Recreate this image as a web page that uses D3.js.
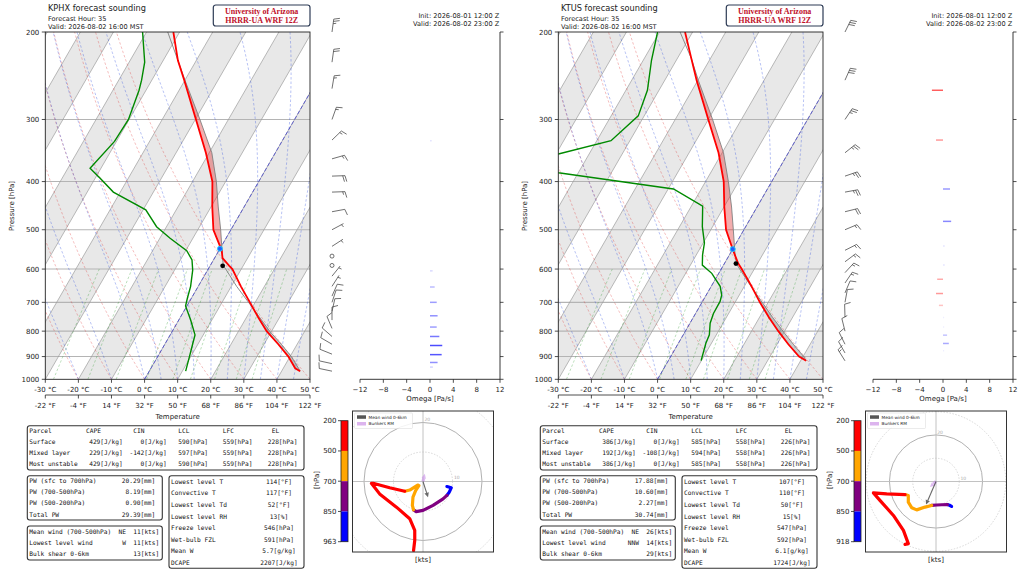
<!DOCTYPE html>
<html>
<head>
<meta charset="utf-8">
<script src="https://cdnjs.cloudflare.com/ajax/libs/d3/7.8.5/d3.min.js"></script>
<style>
  body { margin: 0; background: #fff; }
  text { font-family: "DejaVu Sans", sans-serif; fill: #222; }
  .mono { font-family: "DejaVu Sans Mono", monospace; font-size: 6.2px; fill: #111; }
</style>
</head>
<body>
<svg id="chart" width="1024" height="569"></svg>
<script>

// ---------- KPHX (left) ----------
var phxLevP   = [963, 950, 900, 850, 800, 750, 700, 650, 600, 591, 570, 550, 500, 450, 400, 350, 300, 250, 228, 200];
var phxTemp   = [45.6, 43.6, 39.5, 34.3, 28.5, 23.5, 18.4, 12.9, 7.3, 5.8, 2.4, 0.8, -5.3, -9.6, -14.0, -21.0, -29.8, -40.2, -45.6, -51.9];
var phxParcel = [45.6, 44.6, 40.4, 35.2, 29.4, 23.9, 18.0, 11.6, 5.3, 4.0, 2.4, 0.9, -3.1, -7.8, -12.8, -19.2, -28.6, -40.0, -45.6, -53.6];
var phxTdP    = [963, 900, 850, 814, 760, 712, 687, 650, 603, 575, 551, 520, 493, 456, 420, 394, 376, 332, 300, 262, 250, 230, 200];
var phxTd     = [11.0, 9.6, 8.4, 7.5, 3.6, -0.4, -1.2, -2.3, -4.5, -6.5, -9.7, -16.9, -23.0, -29.2, -42.1, -48.5, -53.3, -50.6, -50.2, -52.1, -53.1, -55.3, -61.2];
var phxWindP  = [963, 930, 890, 850, 820, 790, 760, 730, 700, 680, 650, 620, 590, 565, 540, 500, 460, 420, 390, 360, 330, 300, 260, 230, 200];
var phxU      = [8.1, 9.6, 8.9, 8.1, 6.8, 3.4, 0.0, -2.3, -3.2, -3.6, -3.4, -2.5, -1.4, -1.8, -4.5, -6.2, -11.3, -16.9, -17.5, -14.7, -9.0, -4.5, -2.8, -2.8, -3.2];
var phxV      = [-1.7, -2.1, -3.6, -4.7, -5.9, -8.1, -9.8, -10.2, -9.6, -8.1, -5.3, -3.1, -1.4, -1.2, -2.9, -3.3, -2.1, -0.6, -0.6, -4.2, -8.7, -12.6, -16.6, -20.0, -23.4];
var phxOmegaP = [331, 605, 652, 700, 745, 785, 820, 855, 892, 925, 945];
var phxOmega  = [0.3, 0.45, 0.8, 1.15, 1.3, 1.15, 1.6, 2.1, 2.0, 1.3, 0.5];
var phxLcl    = [591, 3.8];
var phxFrz    = [546, 0];
var phxMeanWind = [1.7, -5.3];
var phxBunkers  = [0.6, 2.6];
var phxCape = [429, 229, 429], phxCin = [0, -142, 0], phxLCL = [590, 597, 590], phxLFC = [559, 559, 559], phxEL = [228, 228, 228];
var phxPW = [20.29, 8.19, 0.90, 29.39];
var phxWindDir = ["NE", "W", ""], phxWindSpd = [11, 11, 13];
var phxStats = [114, 117, 52, 13, 546, 591, 5.7, 2207];

// ---------- KTUS (right) ----------
var tusLevP   = [918, 900, 850, 800, 750, 700, 650, 600, 585, 565, 550, 500, 450, 400, 350, 300, 250, 226, 200];
var tusTemp   = [41.7, 38.8, 33.4, 28.1, 22.8, 17.5, 12.2, 6.2, 4.2, 2.0, 0.3, -5.4, -9.9, -14.5, -21.1, -30.0, -40.4, -45.8, -52.3];
var tusParcel = [41.7, 40.2, 34.9, 29.5, 23.9, 18.2, 12.0, 5.6, 3.6, 2.0, 0.8, -3.2, -7.7, -13.1, -19.6, -28.7, -39.9, -45.8, -53.8];
var tusTdP    = [917, 846, 814, 771, 737, 697, 677, 650, 612, 589, 562, 532, 493, 448, 414, 384, 370, 352, 331, 295, 262, 228, 200];
var tusTd     = [9.9, 8.3, 7.9, 6.1, 5.4, 5.3, 4.7, 2.7, -2.1, -6.4, -8.1, -9.6, -13.1, -16.6, -28.4, -66.0, -80.0, -69.3, -55.7, -51.8, -53.5, -57.5, -60.6];
var tusWindP  = [918, 885, 850, 800, 750, 700, 670, 640, 610, 580, 550, 500, 460, 420, 390, 350, 300, 250, 200];
var tusU      = [6.7, 5.8, 4.9, 2.5, 0.3, -1.9, -4.7, -8.3, -10.4, -11.9, -11.9, -13.3, -21.2, -26.9, -24.0, -18.3, -14.0, -11.9, -13.3];
var tusV      = [-10.7, -10.2, -9.9, -10.0, -10.1, -10.3, -11.0, -12.2, -11.3, -8.9, -6.0, -5.6, -5.3, -4.9, -8.2, -14.6, -21.0, -26.7, -27.0];
var tusOmegaP = [262, 330, 414, 481, 539, 589, 629, 672, 710, 751, 785, 815, 847, 876];
var tusOmega  = [-1.9, -1.2, 1.2, 1.4, 0.3, 0.3, -1.0, -1.2, -0.7, 0.2, 0.2, 0.7, 1.0, 0.2];
var tusLcl    = [585, 3.5];
var tusFrz    = [547, 0];
var tusMeanWind = [-4.3, -9.9];
var tusBunkers  = [-2.6, -2.4];
var tusCape = [386, 192, 386], tusCin = [0, -108, 0], tusLCL = [585, 594, 585], tusLFC = [558, 558, 558], tusEL = [226, 226, 226];
var tusPW = [17.88, 10.60, 2.27, 30.74];
var tusWindDir = ["NE", "NNW", ""], tusWindSpd = [26, 14, 29];
var tusStats = [107, 110, 50, 15, 547, 592, 6.1, 1724];

// ---------- axes / labels ----------
var pressTicks = [200, 300, 400, 500, 600, 700, 800, 900, 1000];
var tempTicksC = [-30, -20, -10, 0, 10, 20, 30, 40, 50];
var tempLabelsF = ["-22 °F", "-4 °F", "14 °F", "32 °F", "50 °F", "68 °F", "86 °F", "104 °F", "122 °F"];
var omegaTicks = [-12, -8, -4, 0, 4, 8, 12];
var omegaLabels = ["\u221212", "\u22128", "\u22124", "0", "4", "8", "12"];
var dryT0 = [-30, -20, -10, 0, 10, 20, 30, 40, 50];
var moistT0 = [-30, -20, -10, 0, 5, 10, 15, 20, 25, 30, 35, 40, 45, 50];
var mixW = [0.4, 1, 2, 4, 7, 10, 16, 24, 32];
var hodoBounds = [500, 700, 850];
var hodoColors = ["#ff0000", "#ffa500", "#800080", "#0000ff"];
var parcelNames = ["Surface", "Mixed layer", "Most unstable"];
var pwLabels = ["PW (sfc to 700hPa)", "PW (700-500hPa)", "PW (500-200hPa)", "Total PW"];
var windLabels = ["Mean wind (700-500hPa)", "Lowest level wind", "Bulk shear 0-6km"];
var statLabels = ["Lowest level T", "Convective T", "Lowest level Td", "Lowest level RH", "Freeze level", "Wet-bulb FZL", "Mean W", "DCAPE"];
var statUnits = ["[°F]", "[°F]", "[°F]", "[%]", "[hPa]", "[hPa]", "[g/kg]", "[J/kg]"];

var panels = [
  { off: 0, stn: "KPHX", levP: phxLevP, temp: phxTemp, parcel: phxParcel, tdP: phxTdP, td: phxTd,
    windP: phxWindP, u: phxU, v: phxV, omP: phxOmegaP, om: phxOmega, lcl: phxLcl, frz: phxFrz,
    mean: phxMeanWind, bunk: phxBunkers, hodoMax: 23.9, grayTop: 700, redBot: 570, redTop: 228,
    cape: phxCape, cin: phxCin, lclT: phxLCL, lfc: phxLFC, el: phxEL, pw: phxPW, wdir: phxWindDir, wspd: phxWindSpd, stats: phxStats },
  { off: 513, stn: "KTUS", levP: tusLevP, temp: tusTemp, parcel: tusParcel, tdP: tusTdP, td: tusTd,
    windP: tusWindP, u: tusU, v: tusV, omP: tusOmegaP, om: tusOmega, lcl: tusLcl, frz: tusFrz,
    mean: tusMeanWind, bunk: tusBunkers, hodoMax: 30.3, grayTop: 650, redBot: 565, redTop: 226,
    cape: tusCape, cin: tusCin, lclT: tusLCL, lfc: tusLFC, el: tusEL, pw: tusPW, wdir: tusWindDir, wspd: tusWindSpd, stats: tusStats }
];

var TAN30 = Math.tan(Math.PI / 6);
var P = { x0: 45.3, x1: 310, y0: 32, y1: 379.3 };
var yP = d3.scaleLog().domain([1000, 200]).range([P.y1, P.y0]);
var xT = d3.scaleLinear().domain([-30, 50]).range([P.x0, P.x1]);
function sx(t, p) { return xT(t) + (P.y1 - yP(p)) * TAN30; }
var xW = d3.scaleLinear().domain([-12, 12]).range([360, 500]);
var line = d3.line();

function esat(tc) { return 6.112 * Math.exp(17.67 * tc / (tc + 243.5)); }
function moistGrad(tk, p) {
  var es = esat(tk - 273.15), rs = 0.622 * es / (p - es);
  return (287.04 * tk + 2.501e6 * rs) / (1005.7 + 2.501e6 * 2.501e6 * rs * 0.622 / (287.04 * tk * tk)) / p;
}
function moistLine(t0) {
  var pts = [], tk = t0 + 273.15, p = 1000, h = -5;
  while (p >= 200) {
    pts.push([sx(tk - 273.15, p), yP(p)]);
    var k1 = moistGrad(tk, p), k2 = moistGrad(tk + h / 2 * k1, p + h / 2),
        k3 = moistGrad(tk + h / 2 * k2, p + h / 2), k4 = moistGrad(tk + h * k3, p + h);
    tk += h / 6 * (k1 + 2 * k2 + 2 * k3 + k4); p += h;
  }
  return pts;
}

var svg = d3.select("#chart");
svg.append("rect").attr("width", 1024).attr("height", 569).attr("fill", "#fff");
var defs = svg.append("defs");
defs.append("clipPath").attr("id", "skewClip").append("rect")
  .attr("x", P.x0).attr("y", P.y0).attr("width", P.x1 - P.x0).attr("height", P.y1 - P.y0);
var HB = { x: 352.5, y: 411, s: 141 };
defs.append("clipPath").attr("id", "hodoClip").append("rect")
  .attr("x", HB.x).attr("y", HB.y).attr("width", HB.s).attr("height", HB.s);

function txt(g, x, y, s, size, anchor) {
  return g.append("text").attr("x", x).attr("y", y).attr("font-size", size)
    .attr("text-anchor", anchor || "start").text(s);
}
function mtext(g, x, y, s, anchor) {
  g.append("text").attr("class", "mono").attr("x", x).attr("y", y).attr("dy", "0.35em")
    .attr("text-anchor", anchor || "start").text(s);
}
function box(g, x, y, w, h) {
  g.append("rect").attr("x", x).attr("y", y).attr("width", w).attr("height", h).attr("rx", 2.5)
    .attr("fill", "#fff").attr("stroke", "#333").attr("stroke-width", 1.1);
}

function barb(g, x, y, u, v) {
  var spd = Math.hypot(u, v);
  if (spd < 2.5) {
    g.append("circle").attr("cx", x).attr("cy", y).attr("r", 2).attr("fill", "none")
      .attr("stroke", "#333").attr("stroke-width", 0.7);
    return;
  }
  var L = 13, dx = -u / spd, dy = v / spd, px = -dy, py = dx, fl = 6, sp = 2.3;
  var tx = x + dx * L, ty = y + dy * L;
  var d = "M" + x + "," + y + "L" + tx + "," + ty;
  var r = Math.round(spd / 5) * 5;
  var flags = Math.floor(r / 50); r -= flags * 50;
  var full = Math.floor(r / 10); r -= full * 10;
  var half = r >= 5, pos = 0, i, sx0, sy0;
  for (i = 0; i < flags; i++) {
    sx0 = tx - dx * pos; sy0 = ty - dy * pos;
    d += "M" + sx0 + "," + sy0 + "L" + (sx0 + px * fl - dx * 1.5) + "," + (sy0 + py * fl - dy * 1.5) +
         "L" + (sx0 - dx * 3) + "," + (sy0 - dy * 3);
    pos += 3.8;
  }
  for (i = 0; i < full; i++) {
    sx0 = tx - dx * pos; sy0 = ty - dy * pos;
    d += "M" + sx0 + "," + sy0 + "L" + (sx0 + px * fl + dx * 1.6) + "," + (sy0 + py * fl + dy * 1.6);
    pos += sp;
  }
  if (half) {
    if (flags + full === 0) pos += sp;
    sx0 = tx - dx * pos; sy0 = ty - dy * pos;
    d += "M" + sx0 + "," + sy0 + "L" + (sx0 + px * fl / 2 + dx * 0.8) + "," + (sy0 + py * fl / 2 + dy * 0.8);
  }
  g.append("path").attr("d", d).attr("fill", "none").attr("stroke", "#333").attr("stroke-width", 0.7);
}

function arrow(g, x0, y0, x1, y1, color, w, head, op) {
  var a = Math.atan2(y1 - y0, x1 - x0);
  var bx = x1 - Math.cos(a) * head, by = y1 - Math.sin(a) * head;
  g.append("line").attr("x1", x0).attr("y1", y0).attr("x2", bx).attr("y2", by)
    .attr("stroke", color).attr("stroke-width", w).attr("opacity", op);
  g.append("path").attr("d", line([[x1, y1], [bx + Math.sin(a) * head * 0.5, by - Math.cos(a) * head * 0.5],
      [bx - Math.sin(a) * head * 0.5, by + Math.cos(a) * head * 0.5]]) + "Z")
    .attr("fill", color).attr("opacity", op);
}

function drawPanel(d) {
  var g = svg.append("g").attr("transform", "translate(" + d.off + ",0)");

  // ----- skew-T background -----
  var bg = g.append("g").attr("clip-path", "url(#skewClip)");
  for (var t = -100; t <= 40; t += 20) {
    bg.append("path").attr("d", line([[sx(t, 1000), yP(1000)], [sx(t + 10, 1000), yP(1000)],
      [sx(t + 10, 200), yP(200)], [sx(t, 200), yP(200)]]) + "Z").attr("fill", "#e8e8e8");
  }
  pressTicks.slice(1, -1).forEach(function (p) {
    bg.append("line").attr("x1", P.x0).attr("x2", P.x1).attr("y1", yP(p)).attr("y2", yP(p))
      .attr("stroke", "#b4b4b4").attr("stroke-width", 1.1);
  });
  for (t = -100; t <= 50; t += 10) {
    bg.append("line").attr("x1", sx(t, 1000)).attr("y1", yP(1000)).attr("x2", sx(t, 200)).attr("y2", yP(200))
      .attr("stroke", "#9c9c9c").attr("stroke-width", 0.7);
  }
  var pFull = d3.range(1000, 199, -10);
  dryT0.forEach(function (t0) {
    bg.append("path").attr("d", line(pFull.map(function (p) {
      return [sx((t0 + 273.15) * Math.pow(p / 1000, 0.2857) - 273.15, p), yP(p)]; })))
      .attr("fill", "none").attr("stroke", "#e03030").attr("stroke-opacity", 0.45)
      .attr("stroke-width", 0.7).attr("stroke-dasharray", "2.5,2");
  });
  moistT0.forEach(function (t0) {
    bg.append("path").attr("d", line(moistLine(t0))).attr("fill", "none").attr("stroke", "#3050e0")
      .attr("stroke-opacity", 0.5).attr("stroke-width", 0.7).attr("stroke-dasharray", "2.5,2");
  });
  var pMix = d3.range(1000, 599, -10);
  mixW.forEach(function (w) {
    bg.append("path").attr("d", line(pMix.map(function (p) {
      var e = p * (w / 1000) / (0.622 + w / 1000), l = Math.log(e / 6.112);
      return [sx(243.5 * l / (17.67 - l), p), yP(p)]; })))
      .attr("fill", "none").attr("stroke", "#2a9a2a").attr("stroke-opacity", 0.45)
      .attr("stroke-width", 0.7).attr("stroke-dasharray", "2.5,2");
  });
  bg.append("line").attr("x1", sx(0, 1000)).attr("y1", yP(1000)).attr("x2", sx(0, 200)).attr("y2", yP(200))
    .attr("stroke", "#2a2ad0").attr("stroke-opacity", 0.75).attr("stroke-width", 0.9).attr("stroke-dasharray", "4,2");

  // ----- sounding -----
  var rows = d.levP.map(function (p, i) { return { p: p, e: d.temp[i], q: d.parcel[i] }; });
  var area = d3.area().y(function (r) { return yP(r.p); })
    .x0(function (r) { return sx(r.e, r.p); }).x1(function (r) { return sx(r.q, r.p); });
  bg.append("path").attr("d", area(rows.filter(function (r) { return r.p >= d.grayTop; })))
    .attr("fill", "#808080").attr("fill-opacity", 0.4);
  bg.append("path").attr("d", area(rows.filter(function (r) { return r.p <= d.redBot && r.p >= d.redTop; })))
    .attr("fill", "#e02828").attr("fill-opacity", 0.38);
  bg.append("path").attr("d", line(rows.map(function (r) { return [sx(r.q, r.p), yP(r.p)]; })))
    .attr("fill", "none").attr("stroke", "#808080").attr("stroke-width", 0.9);
  bg.append("path").attr("d", line(rows.map(function (r) { return [sx(r.e, r.p), yP(r.p)]; })))
    .attr("fill", "none").attr("stroke", "#ff0000").attr("stroke-width", 1.8);
  bg.append("path").attr("d", line(d.tdP.map(function (p, i) { return [sx(d.td[i], p), yP(p)]; })))
    .attr("fill", "none").attr("stroke", "#008a00").attr("stroke-width", 1.4);
  bg.append("circle").attr("cx", sx(d.lcl[1], d.lcl[0])).attr("cy", yP(d.lcl[0])).attr("r", 2.4).attr("fill", "#000");
  bg.append("circle").attr("cx", sx(d.frz[1], d.frz[0])).attr("cy", yP(d.frz[0])).attr("r", 2.5)
    .attr("fill", "#1f5cff").attr("stroke", "#1ad0ff").attr("stroke-width", 0.9);

  g.append("rect").attr("x", P.x0).attr("y", P.y0).attr("width", P.x1 - P.x0).attr("height", P.y1 - P.y0)
    .attr("fill", "none").attr("stroke", "#222").attr("stroke-width", 0.9);

  // y axis
  pressTicks.forEach(function (p) {
    g.append("line").attr("x1", P.x0 - 3.5).attr("x2", P.x0).attr("y1", yP(p)).attr("y2", yP(p))
      .attr("stroke", "#222").attr("stroke-width", 0.8);
    txt(g, P.x0 - 6, yP(p) + 2.5, String(p), 7, "end");
  });
  txt(g, 0, 0, "Pressure [hPa]", 7, "middle").attr("transform", "translate(14,206) rotate(-90)");
  // x axes
  tempTicksC.forEach(function (c, i) {
    var x = xT(c);
    g.append("line").attr("x1", x).attr("x2", x).attr("y1", P.y1).attr("y2", P.y1 + 3.5)
      .attr("stroke", "#222").attr("stroke-width", 0.8);
    txt(g, x, 392, c + " °C", 7, "middle");
    g.append("line").attr("x1", x).attr("x2", x).attr("y1", 395).attr("y2", 398.5)
      .attr("stroke", "#222").attr("stroke-width", 0.8);
    txt(g, x, 407.5, tempLabelsF[i], 7, "middle");
  });
  g.append("line").attr("x1", P.x0).attr("x2", P.x1).attr("y1", 395).attr("y2", 395)
    .attr("stroke", "#222").attr("stroke-width", 0.8);
  txt(g, (P.x0 + P.x1) / 2, 418.5, "Temperature", 7, "middle");

  // ----- omega panel -----
  g.append("line").attr("x1", xW(-12)).attr("x2", xW(12)).attr("y1", P.y1).attr("y2", P.y1)
    .attr("stroke", "#222").attr("stroke-width", 0.9);
  g.append("line").attr("x1", xW(12)).attr("x2", xW(12)).attr("y1", P.y0).attr("y2", P.y1)
    .attr("stroke", "#222").attr("stroke-width", 0.9);
  pressTicks.forEach(function (p) {
    g.append("line").attr("x1", xW(12)).attr("x2", xW(12) + 3.5).attr("y1", yP(p)).attr("y2", yP(p))
      .attr("stroke", "#222").attr("stroke-width", 0.8);
  });
  omegaTicks.forEach(function (w, i) {
    g.append("line").attr("x1", xW(w)).attr("x2", xW(w)).attr("y1", P.y1).attr("y2", P.y1 + 3.5)
      .attr("stroke", "#222").attr("stroke-width", 0.8);
    txt(g, xW(w), 392, omegaLabels[i], 7, "middle");
  });
  txt(g, xW(0), 400.5, "Omega [Pa/s]", 7, "middle");
  d.omP.forEach(function (p, i) {
    var w = d.om[i];
    g.append("line").attr("x1", xW(0)).attr("x2", xW(w)).attr("y1", yP(p)).attr("y2", yP(p))
      .attr("stroke", w >= 0 ? "#0000ff" : "#ff0000").attr("stroke-opacity", Math.min(1, Math.abs(w) / 3))
      .attr("stroke-width", 1.5);
  });

  // ----- wind barbs -----
  var bgB = g.append("g");
  d.windP.forEach(function (p, i) { barb(bgB, 332, yP(p), d.u[i], d.v[i]); });

  // ----- hodograph -----
  var hu = d3.scaleLinear().domain([-d.hodoMax, d.hodoMax]).range([HB.x, HB.x + HB.s]);
  var hv = d3.scaleLinear().domain([-d.hodoMax, d.hodoMax]).range([HB.y + HB.s, HB.y]);
  var hg = g.append("g");
  hg.append("rect").attr("x", HB.x).attr("y", HB.y).attr("width", HB.s).attr("height", HB.s).attr("fill", "#fff");
  var hc = hg.append("g").attr("clip-path", "url(#hodoClip)");
  [10, 20, 30].forEach(function (r) {
    hc.append("circle").attr("cx", hu(0)).attr("cy", hv(0)).attr("r", hu(r) - hu(0)).attr("fill", "none")
      .attr("stroke", r === 20 ? "#a8a8a8" : "#c8c8c8").attr("stroke-width", r === 20 ? 0.9 : 0.7)
      .attr("stroke-dasharray", r === 20 ? null : "1.5,1.5");
  });
  hc.append("line").attr("x1", HB.x).attr("x2", HB.x + HB.s).attr("y1", hv(0)).attr("y2", hv(0)).attr("stroke", "#bbb").attr("stroke-width", 0.9);
  hc.append("line").attr("y1", HB.y).attr("y2", HB.y + HB.s).attr("x1", hu(0)).attr("x2", hu(0)).attr("stroke", "#bbb").attr("stroke-width", 0.9);
  txt(hc, hu(10.5), hv(0.8), "10", 4.5, "start").style("fill", "#aaa");
  txt(hc, hu(0.5), hv(20.6), "20", 4.5, "start").style("fill", "#aaa");
  function bandOf(p) { return p <= hodoBounds[0] ? 0 : p <= hodoBounds[1] ? 1 : p <= hodoBounds[2] ? 2 : 3; }
  var runs = [], cur = null;
  for (var i = 0; i < d.windP.length - 1; i++) {
    var b = bandOf((d.windP[i] + d.windP[i + 1]) / 2);
    if (!cur || cur.b !== b) { cur = { b: b, pts: [[hu(d.u[i]), hv(d.v[i])]] }; runs.push(cur); }
    cur.pts.push([hu(d.u[i + 1]), hv(d.v[i + 1])]);
  }
  runs.forEach(function (r) {
    hc.append("path").attr("d", line(r.pts)).attr("fill", "none").attr("stroke", hodoColors[r.b])
      .attr("stroke-width", 3.2).attr("stroke-linecap", "round").attr("stroke-linejoin", "round");
  });
  arrow(hc, hu(0), hv(0), hu(d.bunk[0]), hv(d.bunk[1]), "#c88ee8", 3.2, 4.5, 0.6);
  arrow(hc, hu(0), hv(0), hu(d.mean[0]), hv(d.mean[1]), "#444", 1.1, 4.5, 0.8);
  // legend
  hg.append("rect").attr("x", HB.x + 2).attr("y", HB.y + 2).attr("width", 58).attr("height", 15.5).attr("rx", 1)
    .attr("fill", "#fff").attr("fill-opacity", 0.85).attr("stroke", "#ddd").attr("stroke-width", 0.6);
  hg.append("rect").attr("x", HB.x + 4.5).attr("y", HB.y + 4.3).attr("width", 9).attr("height", 3.5).attr("fill", "#555");
  hg.append("rect").attr("x", HB.x + 4.5).attr("y", HB.y + 11).attr("width", 9).attr("height", 3.5).attr("fill", "#dcb4ee");
  txt(hg, HB.x + 16, HB.y + 7.6, "Mean wind 0-6km", 4.3, "start");
  txt(hg, HB.x + 16, HB.y + 14.3, "Bunkers RM", 4.3, "start");
  hg.append("rect").attr("x", HB.x).attr("y", HB.y).attr("width", HB.s).attr("height", HB.s)
    .attr("fill", "none").attr("stroke", "#333").attr("stroke-width", 1);
  txt(g, HB.x + HB.s / 2, 561.5, "[kts]", 7, "middle");

  // colorbar
  var cb = { x: 341, w: 7, y0: 420.7, y1: 541.7 };
  var cbLabels = [200, 500, 700, 850, d.levP[0]];
  var segH = (cb.y1 - cb.y0) / 4;
  for (i = 0; i < 4; i++) {
    g.append("rect").attr("x", cb.x).attr("y", cb.y0 + i * segH).attr("width", cb.w).attr("height", segH)
      .attr("fill", hodoColors[i]);
  }
  g.append("rect").attr("x", cb.x).attr("y", cb.y0).attr("width", cb.w).attr("height", cb.y1 - cb.y0)
    .attr("fill", "none").attr("stroke", "#222").attr("stroke-width", 0.8);
  cbLabels.forEach(function (p, i) {
    var y = cb.y0 + i * segH;
    g.append("line").attr("x1", cb.x - 3).attr("x2", cb.x).attr("y1", y).attr("y2", y).attr("stroke", "#222").attr("stroke-width", 0.8);
    txt(g, cb.x - 4.5, y + 2.5, String(p), 7, "end");
  });
  txt(g, 0, 0, "[hPa]", 7, "middle").attr("transform", "translate(319,480) rotate(-90)");

  // ----- tables -----
  box(g, 27.3, 425.7, 276.7, 44.3);
  var hy = 431;
  mtext(g, 29.3, hy, "Parcel"); mtext(g, 86, hy, "CAPE"); mtext(g, 133.3, hy, "CIN");
  mtext(g, 178.3, hy, "LCL"); mtext(g, 222.7, hy, "LFC"); mtext(g, 271.7, hy, "EL");
  parcelNames.forEach(function (n, i) {
    var y = 442 + 11.1 * i;
    mtext(g, 29.3, y, n);
    mtext(g, 122.7, y, d.cape[i] + "[J/kg]", "end");
    mtext(g, 166.7, y, d.cin[i] + "[J/kg]", "end");
    mtext(g, 178.3, y, d.lclT[i] + "[hPa]");
    mtext(g, 222.7, y, d.lfc[i] + "[hPa]");
    mtext(g, 267.7, y, d.el[i] + "[hPa]");
  });
  box(g, 27.3, 475.7, 135, 44.3);
  pwLabels.forEach(function (n, i) {
    var y = 480.7 + 11.3 * i;
    mtext(g, 29.3, y, n);
    mtext(g, 155.3, y, d.pw[i].toFixed(2) + "[mm]", "end");
  });
  box(g, 27.3, 526, 135, 34);
  windLabels.forEach(function (n, i) {
    var y = 531.7 + 11.15 * i;
    mtext(g, 29.3, y, n);
    mtext(g, 126, y, d.wdir[i], "end");
    mtext(g, 159.3, y, d.wspd[i] + "[kts]", "end");
  });
  box(g, 169, 475.7, 135, 92.6);
  statLabels.forEach(function (n, i) {
    var y = 481.7 + 11.57 * i;
    var v = d.stats[i];
    mtext(g, 171, y, n);
    mtext(g, 279, y, (i === 6 ? v.toFixed(1) : v) + statUnits[i], "middle");
  });

  // ----- headers -----
  txt(g, 48, 11.2, d.stn + " forecast sounding", 8.2, "start");
  txt(g, 48, 21.3, "Forecast Hour: 35", 6.6, "start");
  txt(g, 48, 29, "Valid: 2026-08-02 16:00 MST", 6.6, "start");
  g.append("rect").attr("x", 213.3).attr("y", 5).attr("width", 96.7).attr("height", 21).attr("rx", 2.5)
    .attr("fill", "#fff").attr("stroke", "#2d3b55").attr("stroke-width", 1.2);
  txt(g, 261.7, 13.6, "University of Arizona", 8, "middle")
    .style("font-family", "'Liberation Serif', serif").style("font-weight", "bold").style("fill", "#c0102a");
  txt(g, 261.7, 22.6, "HRRR-UA WRF 12Z", 8, "middle")
    .style("font-family", "'Liberation Serif', serif").style("font-weight", "bold").style("fill", "#c0102a");
  txt(g, 499.3, 18, "Init: 2026-08-01 12:00 Z", 6.6, "end");
  txt(g, 499.3, 26, "Valid: 2026-08-02 23:00 Z", 6.6, "end");
}

panels.forEach(drawPanel);
</script>
</body>
</html>
